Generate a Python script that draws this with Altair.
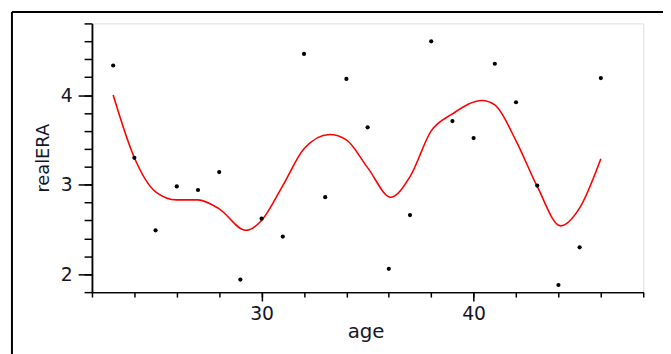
import altair as alt
import pandas as pd

# observed points
ages = [23, 24, 25, 26, 27, 28, 29, 30, 31, 32, 33, 34, 35, 36, 37, 38, 39, 40, 41, 42, 43, 44, 45, 46]
era = [4.33, 3.30, 2.49, 2.98, 2.94, 3.14, 1.94, 2.62, 2.42, 4.46, 2.86, 4.18, 3.64, 2.06, 2.66, 4.60,
       3.71, 3.52, 4.35, 3.92, 2.99, 1.88, 2.30, 4.19]

# smooth fit
fit_age = [23, 24, 25, 26, 27, 28, 29.25, 30, 31, 32, 33.2, 34, 35, 36.1, 37, 38, 39, 40.4, 41, 42, 43, 44.1, 45, 46]
fit_val = [4.00, 3.30, 2.92, 2.83, 2.83, 2.73, 2.49, 2.60, 2.99, 3.40, 3.56, 3.50, 3.19, 2.86, 3.09, 3.60,
           3.79, 3.94, 3.89, 3.49, 2.98, 2.54, 2.74, 3.29]

x_minor = [22, 24, 26, 28, 30, 32, 34, 36, 38, 40, 42, 44, 46, 48]
x_major = [30, 40]
y_minor = [1.8, 2.0, 2.2, 2.4, 2.6, 2.8, 3.0, 3.2, 3.4, 3.6, 3.8, 4.0, 4.2, 4.4, 4.6, 4.8]
y_major = [2, 3, 4]

pts = pd.DataFrame({"age": ages, "realERA": era})
fit = pd.DataFrame({"age": fit_age, "realERA": fit_val})

FONT = "DejaVu Sans"
TXT = "#15152a"
x_scale = alt.Scale(domain=[22, 48], nice=False, zero=False)
y_scale = alt.Scale(domain=[1.8, 4.8], nice=False, zero=False)

common = dict(tickColor="black", tickWidth=1.5, domainColor="black", domainWidth=1.5, grid=False)

x_major_axis = alt.Axis(
    orient="bottom", values=x_major, tickSize=9, format="d",
    labelFont=FONT, labelFontSize=19, labelColor=TXT, labelPadding=4, labelOverlap=False,
    title="age", titleFont=FONT, titleFontSize=20, titleFontWeight="normal", titleColor=TXT,
    titleX=277, titleY=46, titleBaseline="alphabetic", **common,
)
x_minor_axis = alt.Axis(orient="bottom", values=x_minor, tickSize=5, labels=False, title=None, **common)

y_major_axis = alt.Axis(
    orient="left", values=y_major, tickSize=14, format="d",
    labelFont=FONT, labelFontSize=19, labelColor=TXT, labelPadding=6, labelOverlap=False,
    title="realERA", titleFont=FONT, titleFontSize=18, titleFontWeight="normal", titleColor=TXT,
    titleX=-49, titleY=136, titleBaseline="middle", **common,
)
y_minor_axis = alt.Axis(orient="left", values=y_minor, tickSize=8, labels=False, title=None, **common)

points = alt.Chart(pts).mark_circle(color="black", size=18, opacity=1).encode(
    x=alt.X("age:Q", scale=x_scale, axis=x_major_axis),
    y=alt.Y("realERA:Q", scale=y_scale, axis=y_major_axis),
)
curve = alt.Chart(fit).mark_line(color="#ff0000", strokeWidth=1.6, interpolate="monotone").encode(
    x=alt.X("age:Q", scale=x_scale, axis=x_minor_axis),
    y=alt.Y("realERA:Q", scale=y_scale, axis=y_minor_axis),
)

frame_data = alt.Data(values=[{"k": 1}])
frame_top = alt.Chart(frame_data).mark_rule(color="black", strokeWidth=2).encode(
    x=alt.value(-81), x2=alt.value(700), y=alt.value(-11.5)
)
frame_left = alt.Chart(frame_data).mark_rule(color="black", strokeWidth=2).encode(
    x=alt.value(-81), y=alt.value(-11.5), y2=alt.value(400)
)

chart = (
    alt.layer(curve, points, frame_top, frame_left)
    .resolve_axis(x="independent", y="independent")
    .properties(
        width=558, height=272,
        autosize=alt.AutoSizeParams(type="none"),
        padding={"left": 85, "top": 13.5, "right": 20, "bottom": 60},
    )
    .configure_view(stroke="#333333", strokeWidth=2)
    .configure(background="white")
)

chart.save("out.html", embed_options={"renderer": "svg", "actions": False})
